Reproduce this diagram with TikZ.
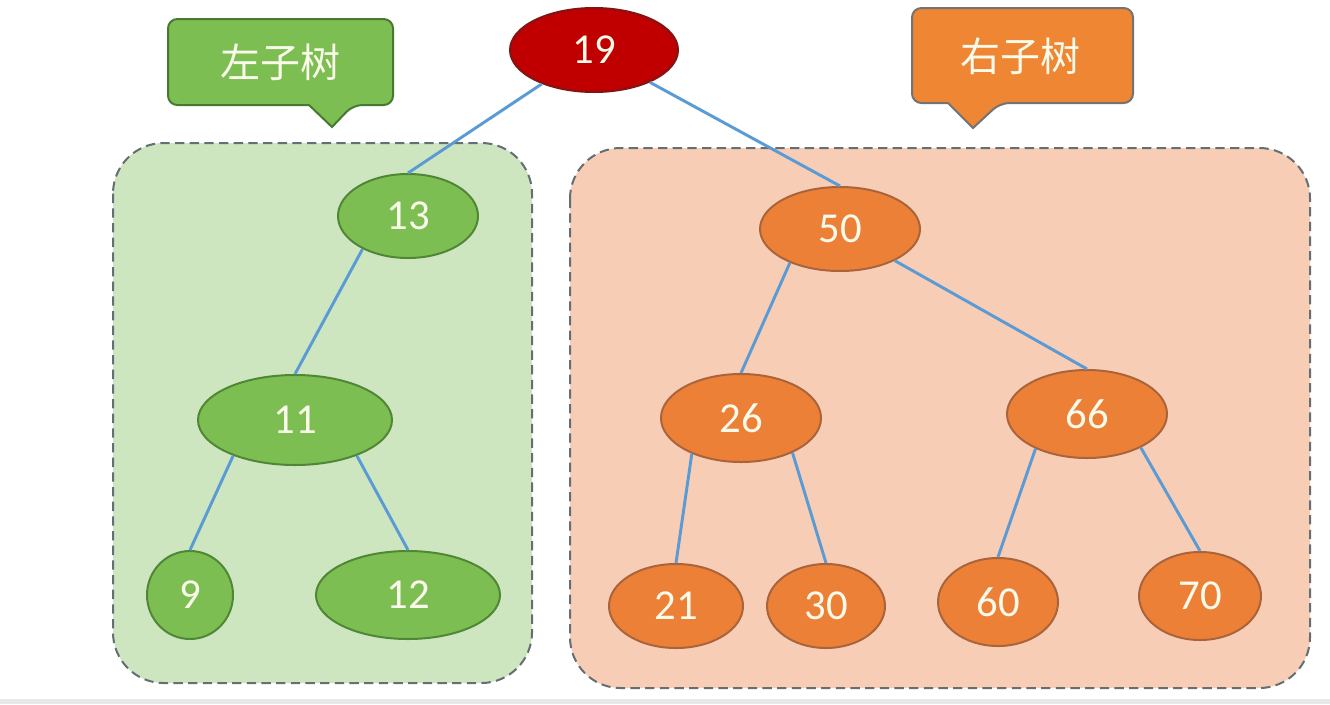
\documentclass[tikz,border=0pt]{standalone}
\usepackage{fontspec}
\setmainfont{Carlito}
\newfontfamily\cjk{Noto Sans CJK SC}
\usetikzlibrary{shapes.geometric}
\definecolor{gfill}{RGB}{125,190,82}
\definecolor{gdraw}{RGB}{80,135,55}
\definecolor{ofill}{RGB}{237,128,55}
\definecolor{odraw}{RGB}{170,100,60}
\definecolor{rfill}{RGB}{192,0,0}
\definecolor{rdraw}{RGB}{130,20,20}
\definecolor{gbox}{RGB}{205,230,192}
\definecolor{obox}{RGB}{248,205,182}
\definecolor{edgec}{RGB}{91,155,213}
\definecolor{dashc}{RGB}{100,110,115}
\definecolor{txt}{RGB}{250,250,235}
\tikzset{
  px/.style={x=0.75pt,y=-0.75pt},
  tnode/.style={ellipse,inner sep=0pt,line width=1.5pt,text=txt,font=\fontsize{32}{36}\selectfont},
  gn/.style={tnode,fill=gfill,draw=gdraw},
  on/.style={tnode,fill=ofill,draw=odraw},
  rn/.style={tnode,fill=rfill,draw=rdraw},
  edge/.style={draw=edgec,line width=2.2pt},
  regionbox/.style={draw=dashc,dashed,dash pattern=on 7pt off 4pt,line width=1.5pt,rounded corners=38pt},
  callout/.style={line width=1.5pt,rounded corners=7pt},
  ctext/.style={text=txt,font=\cjk\fontsize{30}{34}\selectfont}
}
\begin{document}
\begin{tikzpicture}[px]
\useasboundingbox (0,0) rectangle (1330,704);
\fill[white] (0,0) rectangle (1330,704);
\fill[black!9] (0,699) rectangle (1330,704);
% region boxes
\draw[regionbox,fill=gbox] (113,143) rectangle (532,683);
\draw[regionbox,fill=obox] (570,148) rectangle (1310,688);
% callouts
\draw[callout,fill=gfill,draw=gdraw!90!black] (168,19) -- (393,19) -- (393,105) -- (353,105) [sharp corners]-- (332,127) -- (309,105) [rounded corners=7pt]-- (168,105) -- cycle;
\node[ctext] (lt) at (280,62) {左子树};
\draw[callout,fill=ofill!95!yellow,draw=black!55] (912,8) -- (1133,8) -- (1133,103) -- (1000,103) [sharp corners]-- (973,128) -- (948,103) [rounded corners=7pt]-- (912,103) -- cycle;
\node[ctext] (rt) at (1020,56) {右子树};
% nodes (sizes in pt = px*0.75)
\node[rn,minimum width=126pt,minimum height=63pt] (n19) at (594,50) {19};
\node[gn,minimum width=105pt,minimum height=63pt] (n13) at (408,216) {13};
\node[gn,minimum width=145.5pt,minimum height=67.5pt] (n11) at (295,420) {11};
\node[gn,minimum width=64.5pt,minimum height=66pt] (n9) at (190,595) {9};
\node[gn,minimum width=138pt,minimum height=66pt] (n12) at (408,595) {12};
\node[on,minimum width=120pt,minimum height=63pt] (n50) at (840,229) {50};
\node[on,minimum width=120pt,minimum height=66pt] (n26) at (741,418) {26};
\node[on,minimum width=120pt,minimum height=66pt] (n66) at (1087,414) {66};
\node[on,minimum width=100.5pt,minimum height=63pt] (n21) at (676,606) {21};
\node[on,minimum width=88.5pt,minimum height=63pt] (n30) at (826,606) {30};
\node[on,minimum width=90pt,minimum height=66pt] (n60) at (998,602) {60};
\node[on,minimum width=91.5pt,minimum height=66pt] (n70) at (1200,596) {70};
% edges
\draw[edge] (n19.213) -- (n13.north);
\draw[edge] (n19.330) -- (n50.north);
\draw[edge] (n13.216) -- (n11.north);
\draw[edge] (n11.210) -- (n9.north);
\draw[edge] (n11.330) -- (n12.north);
\draw[edge] (n50.214) -- (n26.north);
\draw[edge] (n50.330) -- (n66.north);
\draw[edge] (n26.216) -- (n21.north);
\draw[edge] (n26.326) -- (n30.north);
\draw[edge] (n66.214) -- (n60.north);
\draw[edge] (n66.328) -- (n70.north);
\end{tikzpicture}
\end{document}
